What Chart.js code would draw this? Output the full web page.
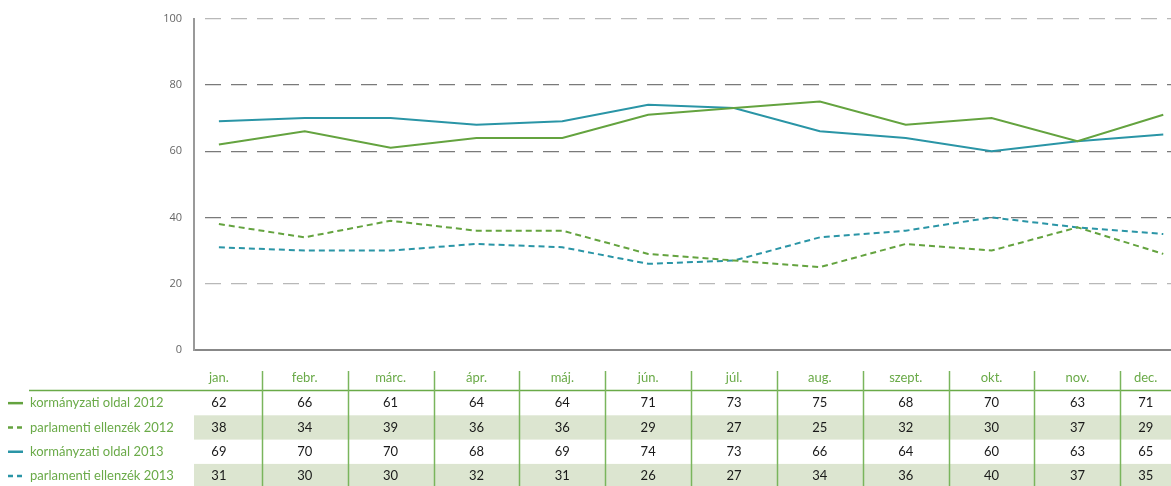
<!DOCTYPE html>
<html>
<head>
<meta charset="utf-8">
<script src="https://cdn.jsdelivr.net/npm/chart.js@4.4.1/dist/chart.umd.min.js"></script>
<style>
  html, body { margin: 0; padding: 0; background: #fff; }
  #wrap { width: 1171px; height: 486px; position: relative; }
</style>
</head>
<body>
<div id="wrap"><canvas id="c"></canvas></div>
<script>
const months = ['jan.','febr.','márc.','ápr.','máj.','jún.','júl.','aug.','szept.','okt.','nov.','dec.'];
const seriesNames = ['kormányzati oldal 2012','parlamenti ellenzék 2012','kormányzati oldal 2013','parlamenti ellenzék 2013'];
const gov2012 = [62,66,61,64,64,71,73,75,68,70,63,71];
const opp2012 = [38,34,39,36,36,29,27,25,32,30,37,29];
const gov2013 = [69,70,70,68,69,74,73,66,64,60,63,65];
const opp2013 = [31,30,30,32,31,26,27,34,36,40,37,35];
const yTicks = [0,20,40,60,80,100];

const GREEN = '#64a33f';
const TEAL = '#2a95a6';
const TXTGREEN = '#6aaa48';
const FONT = 'Lato, "Open Sans", sans-serif';

const toPts = arr => arr.map((v, i) => ({x: i, y: v}));

const tablePlugin = {
  id: 'tablePlugin',
  afterDraw(chart) {
    const ctx = chart.ctx;
    const xs = chart.scales.x;
    const area = chart.chartArea;
    const left = area.left, right = chart.width;
    const px = months.map((m, i) => xs.getPixelForValue(i));
    const bounds = [left];
    for (let i = 0; i < px.length - 1; i++) bounds.push((px[i] + px[i + 1]) / 2);
    bounds.push(right);
    const rowsData = [gov2012, opp2012, gov2013, opp2013];
    const dashed = [false, true, false, true];
    const colors = [GREEN, GREEN, TEAL, TEAL];
    const rowTop = 391, rowH = 24.3;
    ctx.save();
    // shading
    ctx.fillStyle = '#dce5d0';
    [1, 3].forEach(r => {
      ctx.fillRect(left, rowTop + r * rowH, right - left, rowH);
    });
    // header line
    ctx.strokeStyle = '#6aaa48';
    ctx.lineWidth = 1.5;
    ctx.beginPath();
    ctx.moveTo(29, 390.5); ctx.lineTo(right, 390.5);
    ctx.stroke();
    // vertical separators
    ctx.strokeStyle = '#7ab55c';
    ctx.lineWidth = 1.5;
    for (let i = 1; i < bounds.length - 1; i++) {
      const bx = Math.round(bounds[i]) + 0.5;
      ctx.beginPath();
      ctx.moveTo(bx, 371); ctx.lineTo(bx, 486);
      ctx.stroke();
    }
    // header labels
    ctx.textAlign = 'center';
    ctx.textBaseline = 'middle';
    ctx.font = '13px ' + FONT;
    months.forEach((m, i) => {
      const cx = Math.min(px[i], (bounds[i] + bounds[i + 1]) / 2);
      ctx.fillStyle = TXTGREEN;
      ctx.fillText(m, cx, 378);
      rowsData.forEach((arr, r) => {
        ctx.fillStyle = '#1a1a1a';
        ctx.fillText(String(arr[i]), cx, rowTop + r * rowH + rowH / 2);
      });
    });
    // legend labels
    ctx.textAlign = 'left';
    seriesNames.forEach((name, r) => {
      const cy = rowTop + r * rowH + rowH / 2;
      ctx.strokeStyle = colors[r];
      ctx.lineWidth = 2.5;
      ctx.setLineDash(dashed[r] ? [5, 4] : []);
      ctx.beginPath();
      ctx.moveTo(8, cy); ctx.lineTo(23, cy);
      ctx.stroke();
      ctx.setLineDash([]);
      ctx.fillStyle = TXTGREEN;
      ctx.fillText(name, 30, cy);
    });
    ctx.restore();
  }
};

new Chart(document.getElementById('c'), {
  type: 'line',
  data: {
    datasets: [
      { label: seriesNames[0], data: toPts(gov2012), borderColor: GREEN, borderWidth: 2 },
      { label: seriesNames[1], data: toPts(opp2012), borderColor: GREEN, borderWidth: 2, borderDash: [6, 4] },
      { label: seriesNames[2], data: toPts(gov2013), borderColor: TEAL, borderWidth: 2 },
      { label: seriesNames[3], data: toPts(opp2013), borderColor: TEAL, borderWidth: 2, borderDash: [6, 4] }
    ]
  },
  options: {
    responsive: true,
    maintainAspectRatio: false,
    animation: false,
    layout: { padding: { top: 16, bottom: 136, left: 0, right: 0 } },
    elements: { point: { radius: 0 }, line: { tension: 0 } },
    plugins: { legend: { display: false }, tooltip: { enabled: false } },
    scales: {
      x: {
        type: 'linear',
        min: -0.29,
        max: 11.09,
        display: false
      },
      y: {
        min: 0,
        max: 100,
        afterBuildTicks: s => { s.ticks = yTicks.map(v => ({ value: v })); },
        afterFit: s => { s.width = 194; },
        ticks: {
          padding: 12,
          color: '#666',
          font: { family: '"Open Sans", sans-serif', size: 11 }
        },
        grid: {
          drawTicks: false,
          color: c => (c.tick && c.tick.value === 0) ? '#888' : ((c.tick && (c.tick.value === 100 || c.tick.value === 20)) ? '#b8b8b8' : '#7a7a7a'),
          lineWidth: c => (c.tick && c.tick.value === 0) ? 2 : 1.3
        },
        border: {
          display: true,
          color: '#999',
          width: 2,
          dash: c => (c.tick && c.tick.value === 0) ? [] : [16, 10],
          dashOffset: 16
        }
      }
    }
  },
  plugins: [tablePlugin]
});
</script>
</body>
</html>
